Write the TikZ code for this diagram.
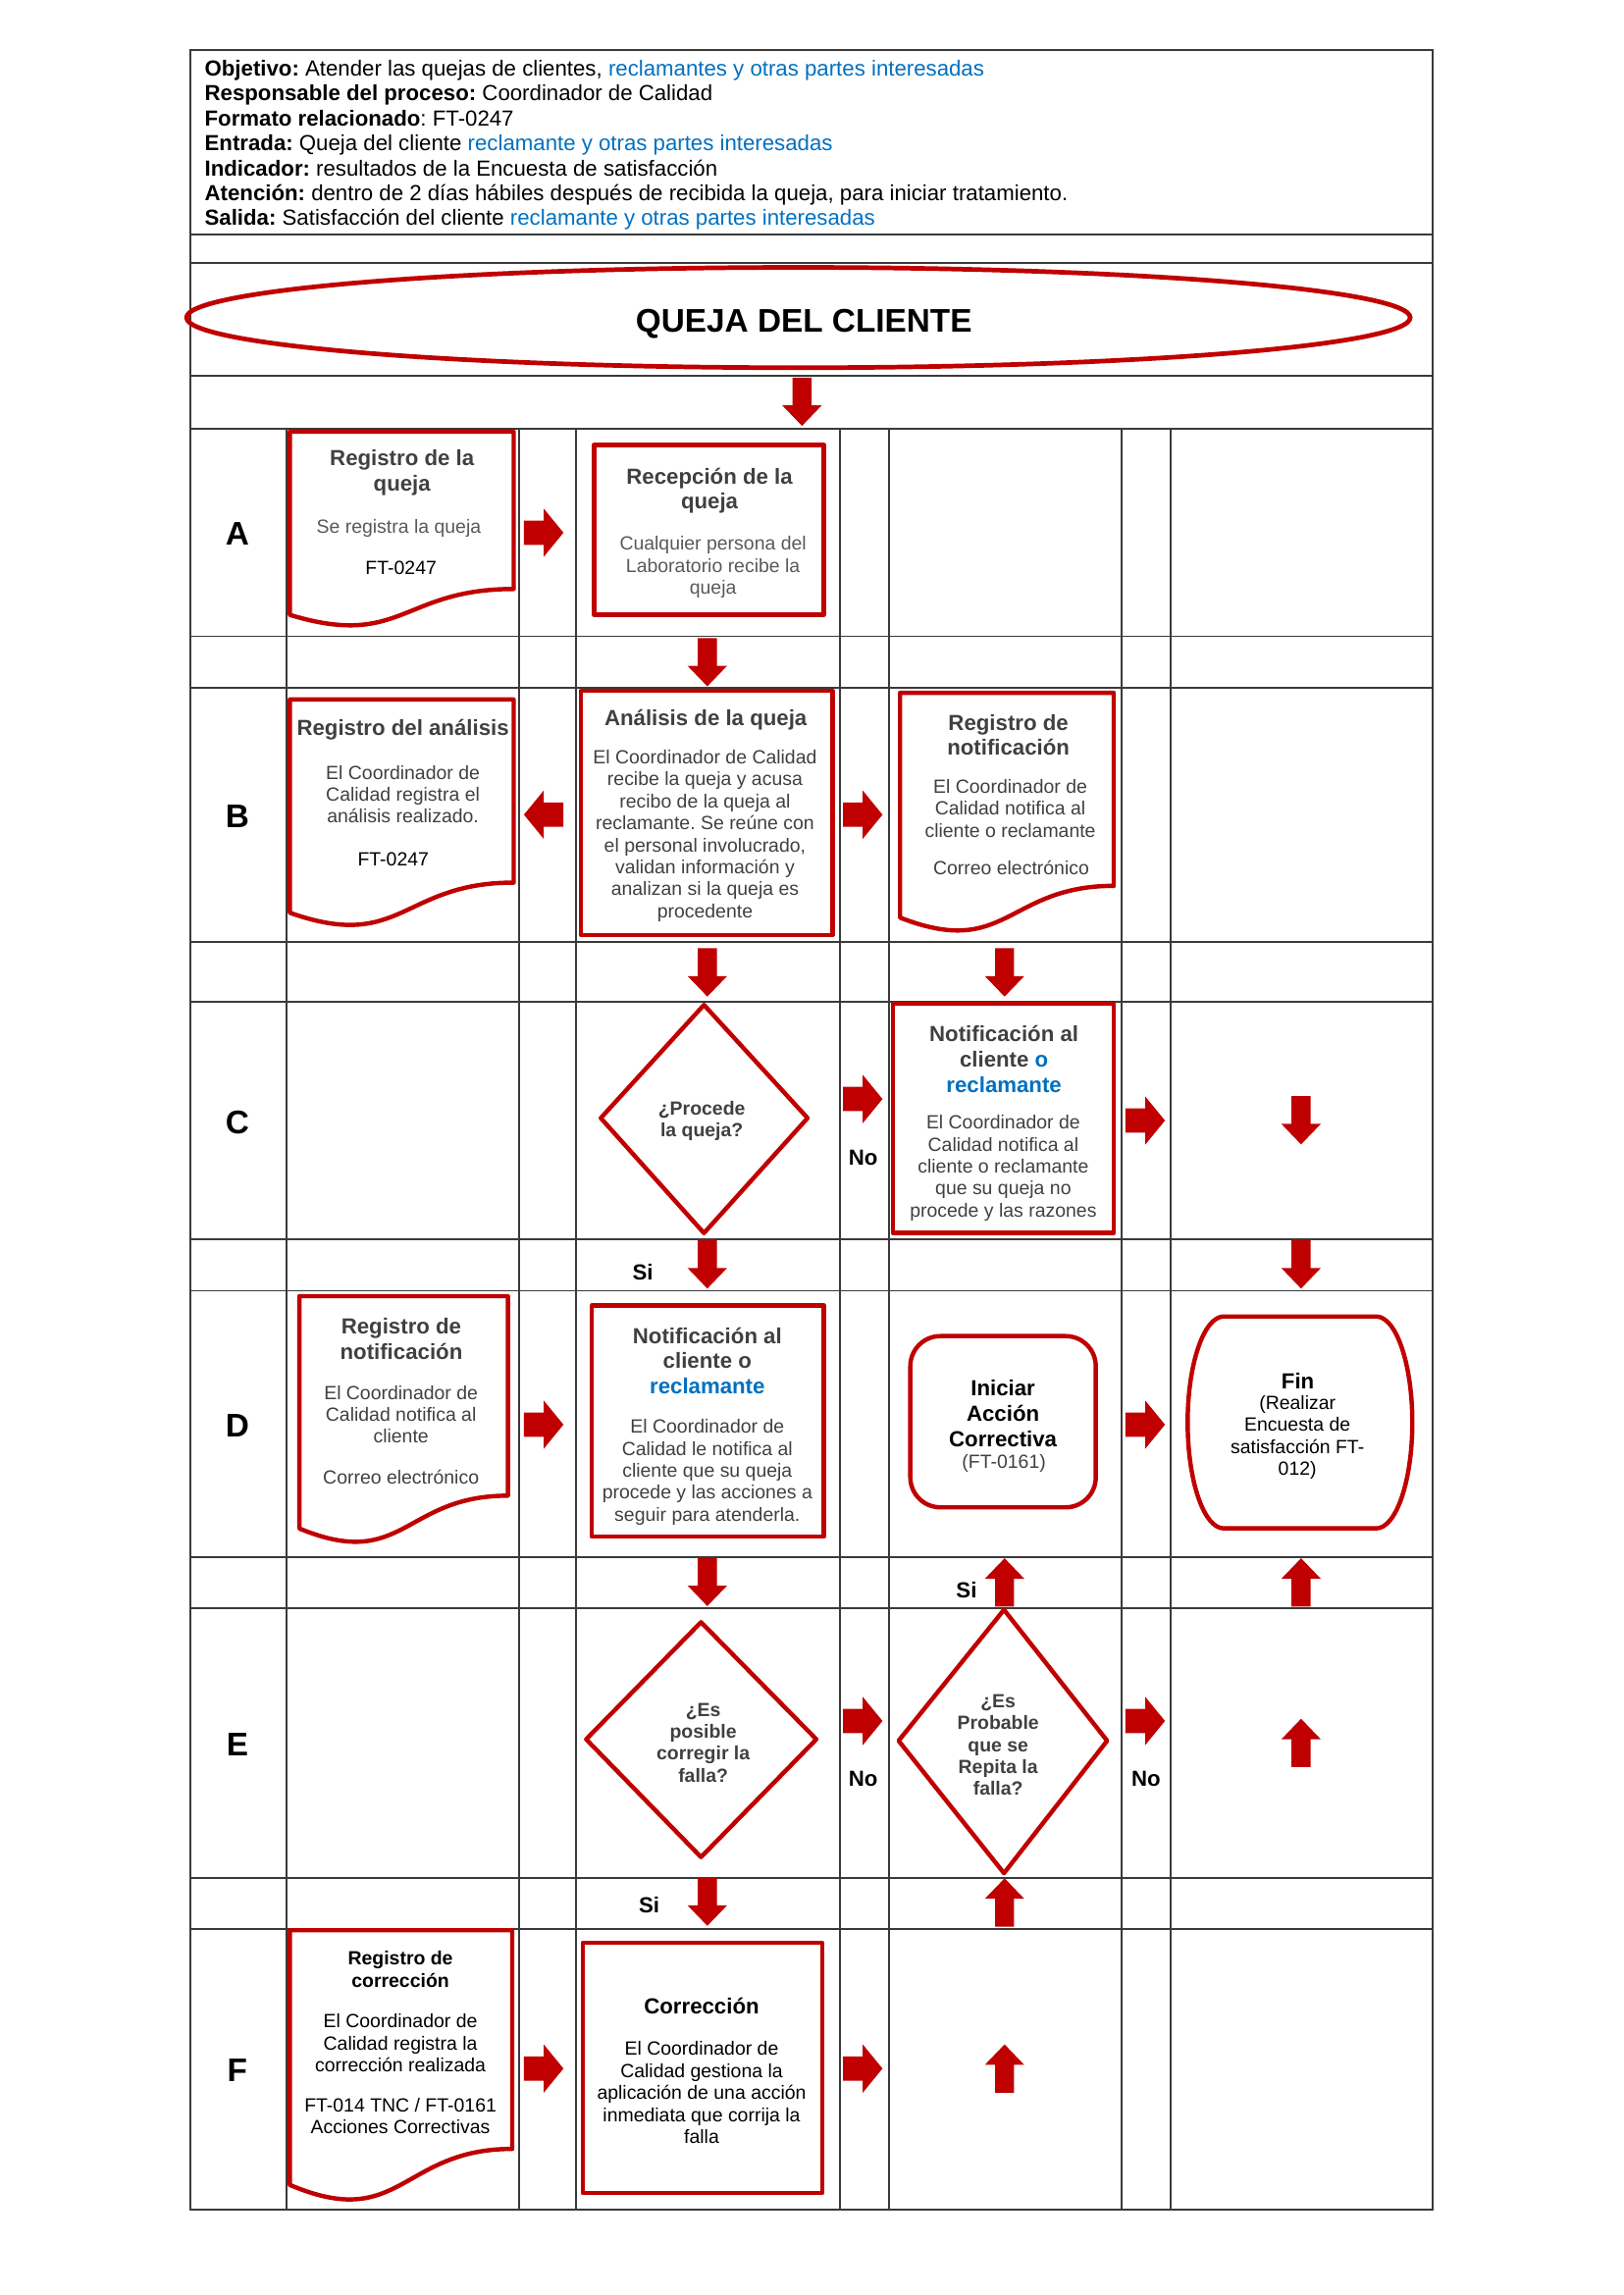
\documentclass[tikz,border=0pt]{standalone}
\usepackage{fontspec}
\setmainfont{Liberation Sans}
\usetikzlibrary{shapes.geometric}
\definecolor{fred}{HTML}{C00000}
\definecolor{fblue}{HTML}{0070C0}
\definecolor{ftxt}{HTML}{404040}
\definecolor{fgrid}{HTML}{3A3A3A}
\newcommand\fcTitle{\fontsize{8}{9.2}\selectfont\bfseries}
\newcommand\fcBody{\fontsize{7}{8.05}\selectfont}
\tikzset{
  shp/.style={draw=fred, line width=1.6pt, line join=round},
  grd/.style={draw=fgrid, line width=0.7pt},
  ttlT/.style={font=\fcTitle, text=ftxt, align=center, inner sep=0pt},
  bdyT/.style={font=\fcBody, text=ftxt, align=center, inner sep=0pt},
  lbl/.style={font=\fontsize{12}{14}\selectfont\bfseries, inner sep=0pt},
  yn/.style={font=\fontsize{8}{9.2}\selectfont\bfseries, inner sep=0pt},
  arw/.style={fill=fred, draw=none}
}
\newcommand\fcArrR[3]{\coordinate (#1) at (#2,#3);
  \fill[arw,shift={(#2,#3)}] (-13.5,-8.3) -- (0,-8.3) -- (0,-16.5) -- (13.5,0) -- (0,16.5) -- (0,8.3) -- (-13.5,8.3) -- cycle;}
\newcommand\fcArrL[3]{\coordinate (#1) at (#2,#3);
  \fill[arw,shift={(#2,#3)}] (13.5,-8.3) -- (0,-8.3) -- (0,-16.5) -- (-13.5,0) -- (0,16.5) -- (0,8.3) -- (13.5,8.3) -- cycle;}
\newcommand\fcArrD[3]{\coordinate (#1) at (#2,#3);
  \fill[arw,shift={(#2,#3)}] (-6.5,-16.5) -- (6.5,-16.5) -- (6.5,2.5) -- (13.5,2.5) -- (0,16.5) -- (-13.5,2.5) -- (-6.5,2.5) -- cycle;}
\newcommand\fcArrU[3]{\coordinate (#1) at (#2,#3);
  \fill[arw,shift={(#2,#3)}] (-6.5,16.5) -- (6.5,16.5) -- (6.5,-2.5) -- (13.5,-2.5) -- (0,-16.5) -- (-13.5,-2.5) -- (-6.5,-2.5) -- cycle;}
\newcommand\fcDoc[4]{%
  \draw[shp] (#1,#3) -- (#2,#3) -- (#2,{#3+0.802*#4}) .. controls ({(#1+#2)/2},{#3+0.802*#4}) and ({(#1+#2)/2},{#3+1.1075*#4}) .. (#1,{#3+0.934*#4}) -- cycle;}
\begin{document}
\frenchspacing
\begin{tikzpicture}[x=0.53679pt,y=-0.53679pt, every node/.append style={yshift=-0.6pt}]
\useasboundingbox (0,0) rectangle (1109,1568.26);
% grid
\draw[grd] (130,34) rectangle (979,1509.8);
\foreach \yy in {160,180,257,293,434.8,470,643.8,684.6,847,882,1064,1099,1283,1318}
  \draw[grd] (130,\yy) -- (979,\yy);
\foreach \xx in {195.8,354.6,393.6,573.8,607.5,766.3,799.9}
  \draw[grd] (\xx,293) -- (\xx,1509.8);
% header
\node[anchor=west, align=left, font=\fontsize{8}{9.15}\selectfont\frenchspacing, inner sep=0pt] (hdr) at (139.5,98)
 {\textbf{Objetivo:} Atender las quejas de clientes, \textcolor{fblue}{reclamantes y otras partes interesadas}\\
  \textbf{Responsable del proceso:} Coordinador de Calidad\\
  \textbf{Formato relacionado}: FT-0247\\
  \textbf{Entrada:} Queja del cliente \textcolor{fblue}{reclamante y otras partes interesadas}\\
  \textbf{Indicador:} resultados de la Encuesta de satisfacción\\
  \textbf{Atención:} dentro de 2 días hábiles después de recibida la queja, para iniciar tratamiento.\\
  \textbf{Salida:} Satisfacción del cliente \textcolor{fblue}{reclamante y otras partes interesadas}};
% ellipse
\node[draw=fred, line width=1.7pt, ellipse, minimum width=448.8pt, minimum height=36.8pt, inner sep=0pt, yshift=0.6pt] (ell) at (545.5,217) {};
\node[font=\fontsize{12}{14}\selectfont\bfseries, inner sep=0pt] (qtxt) at (549.3,220.5) {QUEJA DEL CLIENTE};
% letters
\node[lbl] (lA) at (162.2,363.8) {A};
\node[lbl] (lB) at (162.2,556.7) {B};
\node[lbl] (lC) at (162.2,766) {C};
\node[lbl] (lD) at (162.2,973.4) {D};
\node[lbl] (lE) at (162.2,1191.2) {E};
\node[lbl] (lF) at (162.2,1413.6) {F};
% row A
\fcDoc{198}{351}{295}{134}
\node[ttlT] (aT) at (274.7,322) {Registro de la\\queja};
\node[bdyT, text=black!65] (aB1) at (272.5,359.8) {Se registra la queja};
\node[bdyT, text=black] (aB2) at (274,386.8) {FT-0247};
\draw[shp] (406,304) rectangle (563,420);
\node[ttlT] (rT) at (484.8,334.2) {Recepción de la\\queja};
\node[bdyT, text=black!65] (rB) at (487.2,386.5) {Cualquier persona del\\Laboratorio recibe la\\queja};
% row B
\fcDoc{198}{351}{478}{156}
\node[ttlT] (bT) at (275.3,497.6) {Registro del análisis};
\node[bdyT] (bB1) at (275.3,541.6) {El Coordinador de\\Calidad registra el\\análisis realizado.};
\node[bdyT, text=black] (bB2) at (268.7,586) {FT-0247};
\draw[shp] (397,472) rectangle (569,639);
\node[ttlT] (nT) at (482.2,491) {Análisis de la queja};
\node[bdyT] (nB) at (481.7,570) {El Coordinador de Calidad\\recibe la queja y acusa\\recibo de la queja al\\reclamante. Se reúne con\\el personal involucrado,\\validan información y\\analizan si la queja es\\procedente};
\fcDoc{615}{761}{473.4}{164.5}
\node[ttlT] (cT) at (689,501) {Registro de\\notificación};
\node[bdyT] (cB1) at (690.3,551.3) {El Coordinador de\\Calidad notifica al\\cliente o reclamante};
\node[bdyT] (cB2) at (690.9,591.9) {Correo electrónico};
% row C
\draw[shp] (481,686.7) -- (551.8,764) -- (481,842.6) -- (410.5,764) -- cycle;
\node[bdyT, font=\fcBody\bfseries] (dq1) at (479.5,764.8) {¿Procede\\la queja?};
\node[yn] (no1) at (589.8,790) {No};
\draw[shp] (610,686) rectangle (761,842.6);
\node[ttlT] (eT) at (686,722.6) {Notificación al\\cliente \textcolor{fblue}{o}\\\textcolor{fblue}{reclamante}};
\node[bdyT] (eB) at (685.5,797) {El Coordinador de\\Calidad notifica al\\cliente o reclamante\\que su queja no\\procede y las razones};
\node[yn] (si1) at (439.2,868) {Si};
% row D
\fcDoc{204.6}{347}{885.7}{170}
\node[ttlT] (fT) at (274.2,913.6) {Registro de\\notificación};
\node[bdyT] (fB1) at (274,965.4) {El Coordinador de\\Calidad notifica al\\cliente};
\node[bdyT] (fB2) at (274,1008.4) {Correo electrónico};
\draw[shp] (404.4,892) rectangle (563,1050);
\node[ttlT] (gT) at (483.3,928.7) {Notificación al\\cliente o\\\textcolor{fblue}{reclamante}};
\node[bdyT] (gB) at (483.3,1005) {El Coordinador de\\Calidad le notifica al\\cliente que su queja\\procede y las acciones a\\seguir para atenderla.};
\draw[shp, rounded corners=11pt] (622,913) rectangle (748.7,1030);
\node[ttlT, text=black, font=\fontsize{8}{9.4}\selectfont\bfseries] (hT) at (685.3,964.9) {Iniciar\\Acción\\Correctiva};
\node[bdyT] (hB) at (686,998.6) {(FT-0161)};
\draw[shp] (836.2,899.6) -- (940.3,899.6) .. controls (953.94,899.6) and (965,932) .. (965,972)
  .. controls (965,1012) and (953.94,1044.4) .. (940.3,1044.4) -- (836.2,1044.4)
  .. controls (822.56,1044.4) and (811.5,1012) .. (811.5,972)
  .. controls (811.5,932) and (822.56,899.6) .. (836.2,899.6) -- cycle;
\node[ttlT, text=black] (iT) at (886.8,942.7) {Fin};
\node[bdyT, text=black] (iB) at (886.5,981.2) {(Realizar\\Encuesta de\\satisfacción FT-\\012)};
\node[yn] (si2) at (660.4,1085.7) {Si};
% row E
\draw[shp] (479,1108.5) -- (557.8,1188.5) -- (479,1269) -- (400.5,1188.5) -- cycle;
\node[bdyT, font=\fcBody\bfseries] (jT) at (480.5,1189.7) {¿Es\\posible\\corregir la\\falla?};
\node[yn] (no2) at (589.8,1214.7) {No};
\draw[shp] (686,1100) -- (756.5,1189.5) -- (686,1280) -- (614,1189.5) -- cycle;
\node[bdyT, font=\fcBody\bfseries] (kT) at (682,1191.4) {¿Es\\Probable\\que se\\Repita la\\falla?};
\node[yn] (no3) at (783,1214.7) {No};
\node[yn] (si3) at (443.6,1300.7) {Si};
% row F
\fcDoc{198}{350}{1319}{186.3}
\node[bdyT, text=black, font=\fcBody\bfseries] (lT) at (273.6,1344.6) {Registro de\\corrección};
\node[bdyT, text=black] (lB1) at (273.6,1395) {El Coordinador de\\Calidad registra la\\corrección realizada};
\node[bdyT, text=black] (lB2) at (273.6,1445) {FT-014 TNC / FT-0161\\Acciones Correctivas};
\draw[shp] (398.3,1327.5) rectangle (561.7,1498.5);
\node[ttlT, text=black] (mT) at (479.4,1369.6) {Corrección};
\node[bdyT, text=black] (mB) at (479.4,1428.8) {El Coordinador de\\Calidad gestiona la\\aplicación de una acción\\inmediata que corrija la\\falla};
% block arrows
\fcArrD{a0}{548}{274.5}
\fcArrR{a1}{371.5}{364}
\fcArrD{a2}{483.3}{452.5}
\fcArrL{a3}{371.5}{556.7}
\fcArrR{a4}{589.5}{556.7}
\fcArrD{a5}{483.3}{664.5}
\fcArrD{a6}{686.4}{664.5}
\fcArrR{a7}{589.5}{751}
\fcArrR{a8}{782.5}{765.7}
\fcArrD{a9}{889}{765.5}
\fcArrD{a10}{483.3}{864}
\fcArrD{a11}{889}{864}
\fcArrR{a12}{371.5}{973.5}
\fcArrR{a13}{782.5}{973.5}
\fcArrD{a14}{483.3}{1081}
\fcArrU{a15}{686.4}{1081.3}
\fcArrU{a16}{889}{1081.3}
\fcArrR{a17}{589.5}{1176}
\fcArrR{a18}{782.5}{1176}
\fcArrU{a19}{889}{1191}
\fcArrD{a20}{483.3}{1299.5}
\fcArrU{a21}{686.4}{1300}
\fcArrR{a22}{371.5}{1413.5}
\fcArrR{a23}{589.5}{1413.5}
\fcArrU{a24}{686.4}{1413.5}
\end{tikzpicture}
\end{document}
